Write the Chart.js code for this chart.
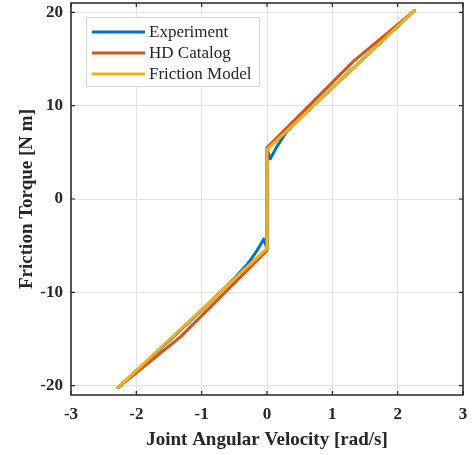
<!DOCTYPE html>
<html>
<head>
<meta charset="utf-8">
<script src="https://cdn.jsdelivr.net/npm/chart.js@4/dist/chart.umd.min.js"></script>
<style>
  html, body { margin: 0; padding: 0; background: #fff; }
  #wrap { width: 473px; height: 455px; }
</style>
</head>
<body>
<div id="wrap"><canvas id="frictionChart"></canvas></div>
<script>
// Series (velocity [rad/s], torque [N m])
const experimentX = [-2.28, -1.5, -1.0, -0.5, -0.3, -0.15, -0.05, 0, 0, 0.05, 0.15, 0.3, 0.5, 1.0, 1.5, 2.26];
const experimentY = [-20.2, -15.2, -11.9, -8.5, -7.0, -5.5, -4.3, -5.3, 5.3, 4.3, 5.6, 7.2, 8.6, 11.9, 15.2, 20.2];
const catalogX = [-2.28, -1.33, 0, 0, 1.33, 2.26];
const catalogY = [-20.2, -14.8, -5.5, 5.5, 14.8, 20.2];
const modelX = [-2.28, 0, 0, 2.26];
const modelY = [-20.2, -5.3, 5.3, 20.2];

const xTicks = [-3, -2, -1, 0, 1, 2, 3];
const yTicks = [-20, -10, 0, 10, 20];

const seriesNames = ["Experiment", "HD Catalog", "Friction Model"];
const seriesColors = ["#0072BD", "#D95319", "#EDB120"];

const toPoints = (xs, ys) => xs.map((x, i) => ({ x: x, y: ys[i] }));

const serif = "'Liberation Serif', 'Times New Roman', serif";

// Box, inner ticks and legend drawn like a MATLAB figure
const matlabFrame = {
    id: "matlabFrame",
    afterDatasetsDraw(chart) {
        const { ctx, chartArea: a, scales } = chart;
        ctx.save();
        ctx.strokeStyle = "#262626";
        ctx.lineWidth = 1.5;
        ctx.strokeRect(a.left, a.top, a.right - a.left, a.bottom - a.top);
        ctx.lineWidth = 1.2;
        ctx.beginPath();
        xTicks.forEach(v => {
            const px = scales.x.getPixelForValue(v);
            ctx.moveTo(px, a.bottom); ctx.lineTo(px, a.bottom - 4);
            ctx.moveTo(px, a.top); ctx.lineTo(px, a.top + 4);
        });
        yTicks.forEach(v => {
            const py = scales.y.getPixelForValue(v);
            ctx.moveTo(a.left, py); ctx.lineTo(a.left + 4, py);
            ctx.moveTo(a.right, py); ctx.lineTo(a.right - 4, py);
        });
        ctx.stroke();

        // Legend
        const lx = a.left + 15, ly = a.top + 14, lw = 173, lh = 69;
        ctx.fillStyle = "#fff";
        ctx.fillRect(lx, ly, lw, lh);
        ctx.strokeStyle = "#d9d9d9";
        ctx.lineWidth = 1;
        ctx.strokeRect(lx + 0.5, ly + 0.5, lw, lh);
        ctx.font = "17px " + serif;
        ctx.textBaseline = "middle";
        seriesNames.forEach((name, i) => {
            const y = ly + 15 + i * 21;
            ctx.strokeStyle = seriesColors[i];
            ctx.lineWidth = 3;
            ctx.beginPath();
            ctx.moveTo(lx + 6, y); ctx.lineTo(lx + 59, y);
            ctx.stroke();
            ctx.fillStyle = "#262626";
            ctx.fillText(name, lx + 63, y + 1);
        });
        ctx.restore();
    }
};

const ctx = document.getElementById("frictionChart").getContext("2d");
new Chart(ctx, {
    type: "scatter",
    data: {
        datasets: [
            { label: seriesNames[1], data: toPoints(catalogX, catalogY), borderColor: seriesColors[1], order: 2 },
            { label: seriesNames[0], data: toPoints(experimentX, experimentY), borderColor: seriesColors[0], order: 3 },
            { label: seriesNames[2], data: toPoints(modelX, modelY), borderColor: seriesColors[2], order: 1 }
        ].map(d => Object.assign(d, {
            showLine: true, borderWidth: 3, pointRadius: 0, fill: false, tension: 0,
            borderJoinStyle: "round", borderCapStyle: "round"
        }))
    },
    options: {
        responsive: true,
        maintainAspectRatio: false,
        animation: false,
        layout: { padding: { top: 3, right: 10, left: 0, bottom: 0 } },
        plugins: { legend: { display: false }, tooltip: { enabled: false } },
        scales: {
            x: {
                type: "linear",
                min: -3, max: 3,
                afterBuildTicks: s => { s.ticks = xTicks.map(v => ({ value: v })); },
                afterFit: s => { s.height = 60; s.paddingLeft = 0; s.paddingRight = 0; },
                grid: { color: "#e3e3e3", drawTicks: false },
                border: { display: false },
                ticks: { color: "#262626", padding: 9, font: { family: serif, size: 17, weight: "bold" } },
                title: { display: true, text: "Joint Angular Velocity [rad/s]", color: "#262626", padding: { top: 1 },
                    font: { family: serif, size: 19, weight: "bold" } }
            },
            y: {
                type: "linear",
                min: -21, max: 21,
                afterBuildTicks: s => { s.ticks = yTicks.map(v => ({ value: v })); },
                afterFit: s => { s.width = 71; s.paddingTop = 0; s.paddingBottom = 0; },
                grid: { color: "#e3e3e3", drawTicks: false },
                border: { display: false },
                ticks: { color: "#262626", padding: 8, font: { family: serif, size: 17, weight: "bold" } },
                title: { display: true, text: "Friction Torque [N m]", color: "#262626", padding: { top: 16, bottom: 0 },
                    font: { family: serif, size: 19, weight: "bold" } }
            }
        }
    },
    plugins: [matlabFrame]
});
</script>
</body>
</html>
